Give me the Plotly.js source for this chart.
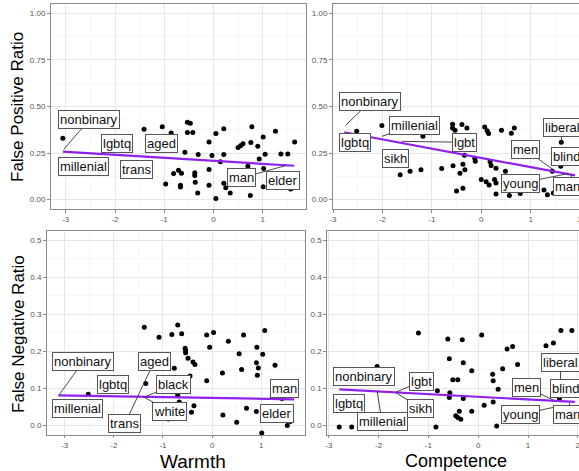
<!DOCTYPE html>
<html>
<head>
<meta charset="utf-8">
<script src="https://cdn.plot.ly/plotly-3.0.1.min.js"></script>
<style>
html,body{margin:0;padding:0;overflow:hidden;background:#fff;width:579px;height:471px;}
#chart{width:620px;height:471px;}
</style>
</head>
<body>
<div id="chart"></div>
<script>
// ---------- DATA ----------
// Warmth vs False Positive Ratio
const warmthFP_x = [-3.06,-1.41,-1.04,-0.86,-0.53,-0.47,-0.53,-0.42,-0.58,-0.31,-0.09,0.05,-0.03,0.21,0.21,0.14,-0.81,-0.71,-0.65,-0.97,-0.67,-0.67,-0.38,-0.38,-0.37,-0.32,-0.09,-0.09,0.05,0.21,0.25,0.34,0.50,0.55,0.60,0.78,0.76,0.90,0.93,1.01,1.05,1.26,1.37,1.51,1.65,0.70,0.75,1.01,1.57,1.02];
const warmthFP_y = [0.33,0.378,0.392,0.358,0.415,0.41,0.36,0.36,0.254,0.243,0.31,0.355,0.237,0.38,0.243,0.204,0.14,0.158,0.142,0.084,0.078,0.068,0.145,0.13,0.093,0.036,0.162,0.078,0.006,0.088,0.064,0.036,0.28,0.29,0.30,0.392,0.307,0.287,0.218,0.337,0.244,0.367,0.245,0.245,0.31,0.18,0.022,0.07,0.057,0.167];
const warmthFP_fitX = [-3.06, 1.64];
const warmthFP_fitY = [0.258, 0.182];

// Competence vs False Positive Ratio
const compFP_x = [-2.52,-2.01,-1.18,-1.64,-1.44,-1.22,-0.80,-0.58,-0.58,-0.53,-0.39,-0.29,-0.57,-0.43,-0.37,-0.33,-0.34,-0.13,-0.12,-0.50,-0.37,0.07,0.12,0.15,0.41,0.61,0.67,0.00,0.10,0.16,0.18,0.20,0.30,0.27,0.30,0.30,0.49,0.57,0.79,1.27,1.34,1.62,1.61,1.44,1.46];
const compFP_y = [0.367,0.398,0.34,0.134,0.152,0.161,0.167,0.405,0.385,0.373,0.403,0.385,0.182,0.142,0.19,0.161,0.238,0.222,0.206,0.047,0.062,0.39,0.37,0.355,0.372,0.357,0.385,0.108,0.096,0.079,0.204,0.183,0.168,0.108,0.09,0.03,0.152,0.022,0.033,0.052,0.026,0.308,0.179,0.152,0.036];
const compFP_fitX = [-2.77, 1.90];
const compFP_fitY = [0.362, 0.130];

// Warmth vs False Negative Ratio
const warmthFN_x = [-1.38,-1.08,-0.82,-0.70,-0.62,-0.55,-0.54,-0.54,-0.49,-0.39,-0.35,-0.77,-0.45,-0.11,0.03,-0.05,0.33,-0.11,0.21,0.64,0.55,0.60,0.91,0.90,0.94,0.92,1.07,1.03,1.28,0.70,0.90,0.50,0.22,1.01,1.42,1.53,1.59,-0.37,-0.42,-0.70,-0.67,-0.89,-2.52,-1.35];
const warmthFN_y = [0.265,0.238,0.245,0.271,0.247,0.208,0.202,0.196,0.181,0.171,0.164,0.154,0.133,0.244,0.251,0.211,0.227,0.12,0.141,0.244,0.193,0.151,0.211,0.169,0.155,0.135,0.256,0.192,0.162,0.046,0.037,0.008,0.028,-0.021,0.072,-0.001,0.01,0.053,0.035,0.081,0.063,0.017,0.084,0.113];
const warmthFN_fitX = [-3.13, 1.67];
const warmthFN_fitY = [0.081, 0.070];

// Competence vs False Negative Ratio
const compFN_x = [-2.79,-2.54,-2.03,-1.20,-0.85,-0.82,-0.61,-0.58,-0.57,-0.58,-0.51,-0.41,-0.32,-0.30,-0.30,-0.45,-0.41,-0.35,-0.38,-0.13,-0.13,0.07,0.12,0.29,0.30,0.30,0.37,0.40,0.49,0.58,0.69,0.79,1.36,1.51,1.66,1.88,1.63];
const compFN_y = [-0.005,-0.005,0.159,0.249,-0.005,0.093,0.233,0.18,0.088,0.075,0.123,0.123,0.231,0.169,0.072,0.026,0.021,0.016,0.038,0.147,0.038,0.244,0.054,0.138,0.12,0.063,-0.002,0.097,0.153,0.206,0.213,0.164,0.215,0.222,0.256,0.256,0.072];
const compFN_fitX = [-2.79, 1.94];
const compFN_fitY = [0.097, 0.063];

// tick labels
const xTickVals = [-3,-2,-1,0,1,2];
const xTickText = ['-3','-2','-1','0','1','2'];
const fpTickVals = [0,0.25,0.5,0.75,1];
const fpTickText = ['0.00','0.25','0.50','0.75','1.00'];
const fnTickVals = [0,0.1,0.2,0.3,0.4,0.5];
const fnTickText = ['0.0','0.1','0.2','0.3','0.4','0.5'];

// ---------- LAYOUT ----------
const W = 620, H = 471;
const FONT = 'Liberation Sans, Arial, Helvetica, sans-serif';
const fx = p => p / W;
const fy = p => 1 - p / H;

const PURPLE = '#9020ee';

function pts(x, y, xa, ya) {
  return {x: x, y: y, xaxis: xa, yaxis: ya, type: 'scatter', mode: 'markers',
    marker: {color: '#000', size: 5}, hoverinfo: 'skip', showlegend: false, cliponaxis: false};
}
function fit(x, y, xa, ya) {
  return {x: x, y: y, xaxis: xa, yaxis: ya, type: 'scatter', mode: 'lines',
    line: {color: PURPLE, width: 2.2}, hoverinfo: 'skip', showlegend: false};
}

const traces = [
  pts(warmthFP_x, warmthFP_y, 'x', 'y'), fit(warmthFP_fitX, warmthFP_fitY, 'x', 'y'),
  pts(compFP_x, compFP_y, 'x2', 'y2'), fit(compFP_fitX, compFP_fitY, 'x2', 'y2'),
  pts(warmthFN_x, warmthFN_y, 'x3', 'y3'), fit(warmthFN_fitX, warmthFN_fitY, 'x3', 'y3'),
  pts(compFN_x, compFN_y, 'x4', 'y4'), fit(compFN_fitX, compFN_fitY, 'x4', 'y4')
];

function xax(d, r, anchor, minor) {
  return {domain: d, range: r, anchor: anchor, tickmode: 'array', tickvals: xTickVals, ticktext: xTickText,
    showgrid: true, gridcolor: '#e6e6e6', gridwidth: 1, zeroline: false,
    showline: true, mirror: true, linecolor: '#8a8a8a', linewidth: 1,
    ticks: 'outside', ticklen: 2.5, tickcolor: '#8a8a8a', tickwidth: 1,
    tickfont: {family: FONT, size: 8, color: '#555'},
    minor: {tickmode: 'array', tickvals: minor, showgrid: true, gridcolor: '#f2f2f2', gridwidth: 0.6, ticks: ''}};
}
function yax(d, r, anchor, tv, tt, minor) {
  return {domain: d, range: r, anchor: anchor, tickmode: 'array', tickvals: tv, ticktext: tt,
    showgrid: true, gridcolor: '#e6e6e6', gridwidth: 1, zeroline: false,
    showline: true, mirror: true, linecolor: '#8a8a8a', linewidth: 1,
    ticks: 'outside', ticklen: 3, tickcolor: '#8a8a8a', tickwidth: 1,
    tickfont: {family: FONT, size: 8, color: '#555'},
    minor: {tickmode: 'array', tickvals: minor, showgrid: true, gridcolor: '#f2f2f2', gridwidth: 0.6, ticks: ''}};
}
const xMinor = [-3.5,-2.5,-1.5,-0.5,0.5,1.5,2.5];
const fpMinor = [0.125,0.375,0.625,0.875];
const fnMinor = [0.05,0.15,0.25,0.35,0.45];

const topY = [fy(209), fy(4)];
const botY = [fy(434.5), fy(231)];

// ---------- LABELS ----------
function lab(text, xa, ya, bx, by, px, py) {
  const a = {text: text, xref: xa, yref: ya,
    font: {family: FONT, size: 13, color: '#111'},
    bgcolor: '#fff', bordercolor: '#555', borderwidth: 1, borderpad: 1};
  if (px === undefined) {
    a.x = bx; a.y = by; a.showarrow = false; a.xanchor = 'center'; a.yanchor = 'middle';
  } else {
    a.x = px; a.y = py; a.axref = xa; a.ayref = ya; a.ax = bx; a.ay = by;
    a.showarrow = true; a.arrowhead = 0; a.arrowwidth = 0.9; a.arrowcolor = '#333'; a.standoff = 0;
  }
  return a;
}

function title(text, x, y, size, angle) {
  return {text: text, xref: 'paper', yref: 'paper', x: fx(x), y: fy(y), textangle: angle || 0,
    xanchor: 'center', yanchor: 'middle', showarrow: false, borderpad: 0,
    font: {family: FONT, size: size, color: '#000'}};
}

const annotations = [
  // top-left
  lab('nonbinary','x','y',-2.52,0.43,-3.04,0.27),
  lab('lgbtq','x','y',-1.96,0.303),
  lab('aged','x','y',-1.06,0.303),
  lab('millenial','x','y',-2.64,0.177),
  lab('trans','x','y',-1.57,0.161),
  lab('man','x','y',0.57,0.117,1.47,0.183),
  lab('elder','x','y',1.41,0.104),
  // top-right
  lab('nonbinary','x2','y2',-2.25,0.525,-2.75,0.398),
  lab('lgbtq','x2','y2',-2.56,0.305),
  lab('millenial','x2','y2',-1.35,0.398,-2.01,0.34),
  lab('lgbt','x2','y2',-0.34,0.308,-1.61,0.313),
  lab('sikh','x2','y2',-1.73,0.222),
  lab('liberal','x2','y2',1.64,0.39,1.62,0.31),
  lab('men','x2','y2',0.90,0.267,1.46,0.161),
  lab('blind','x2','y2',1.72,0.23),
  lab('young','x2','y2',0.79,0.088,1.76,0.14),
  lab('man','x2','y2',1.74,0.072,1.84,0.135),
  // bottom-left
  lab('nonbinary','x3','y3',-2.62,0.173,-3.11,0.083),
  lab('lgbtq','x3','y3',-2.02,0.109),
  lab('millenial','x3','y3',-2.73,0.044),
  lab('aged','x3','y3',-1.18,0.172,-1.69,0.028),
  lab('black','x3','y3',-0.79,0.109,-1.36,0.077),
  lab('white','x3','y3',-0.86,0.037,-1.40,0.077),
  lab('trans','x3','y3',-1.79,0.005),
  lab('man','x3','y3',1.47,0.099),
  lab('elder','x3','y3',1.32,0.032),
  // bottom-right
  lab('nonbinary','x4','y4',-2.29,0.133),
  lab('lgbtq','x4','y4',-2.60,0.058),
  lab('millenial','x4','y4',-1.93,0.009,-2.03,0.092),
  lab('lgbt','x4','y4',-1.14,0.119,-1.64,0.09),
  lab('sikh','x4','y4',-1.16,0.046,-1.65,0.088),
  lab('liberal','x4','y4',1.66,0.17,1.65,0.121),
  lab('men','x4','y4',0.96,0.103,1.51,0.068),
  lab('blind','x4','y4',1.76,0.098),
  lab('young','x4','y4',0.84,0.029,1.57,0.05),
  lab('man','x4','y4',1.79,0.028,1.84,0.061),
  // axis titles
  title('False Positive Ratio', 18, 107, 17, -90),
  title('False Negative Ratio', 18, 334, 17, -90),
  title('Warmth', 193, 461, 19),
  title('Competence', 456, 461, 18)
];

const layout = {
  width: W, height: H,
  margin: {l: 0, r: 0, t: 0, b: 0},
  paper_bgcolor: '#fff', plot_bgcolor: '#fff',
  font: {family: FONT},
  showlegend: false,
  xaxis: xax([fx(51), fx(306)], [-3.30, 1.88], 'y', xMinor),
  yaxis: yax(topY, [-0.05, 1.05], 'x', fpTickVals, fpTickText, fpMinor),
  xaxis2: xax([fx(333), fx(589.9)], [-3.0, 2.2], 'y2', xMinor),
  yaxis2: yax(topY, [-0.05, 1.05], 'x2', fpTickVals, fpTickText, fpMinor),
  xaxis3: xax([fx(47), fx(305)], [-3.36, 1.89], 'y3', xMinor),
  yaxis3: yax(botY, [-0.025, 0.525], 'x3', fnTickVals, fnTickText, fnMinor),
  xaxis4: xax([fx(327.3), fx(586.3)], [-3.03, 2.17], 'y4', xMinor),
  yaxis4: yax(botY, [-0.025, 0.525], 'x4', fnTickVals, fnTickText, fnMinor),
  annotations: annotations
};

Plotly.newPlot('chart', traces, layout, {displayModeBar: false, staticPlot: true});
</script>
</body>
</html>
